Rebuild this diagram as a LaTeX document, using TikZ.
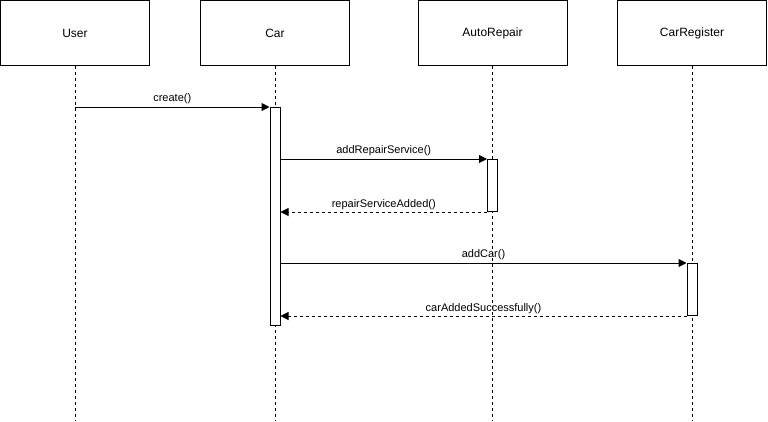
\documentclass[tikz,border=0pt]{standalone}
\usepackage{fontspec}
\setmainfont{Liberation Sans}
\usetikzlibrary{arrows.meta}
\begin{document}
\begin{tikzpicture}[x=1pt,y=-1pt,
  head/.style={draw,line width=1pt,minimum width=149pt,minimum height=65pt,inner sep=0pt,font=\fontsize{12}{14}\selectfont},
  life/.style={line width=1pt,dash pattern=on 3pt off 3pt},
  activ/.style={draw,fill=white,line width=1pt,minimum width=10pt,inner sep=0pt,anchor=north},
  call/.style={line width=1pt,-{Triangle[length=8pt,width=8pt]}},
  reply/.style={line width=1pt,dash pattern=on 3pt off 3pt,-{Triangle[length=8pt,width=8pt]}},
  msg/.style={font=\fontsize{11}{13}\selectfont,inner sep=0pt,anchor=south}]
\useasboundingbox (0,0) rectangle (768,421);
% lifeline heads
\node[head] (user) at (75,33) {User};
\node[head] (car) at (275,33) {Car};
\node[head] (repair) at (492.5,33) {AutoRepair};
\node[head] (reg) at (692,33) {CarRegister};
% lifeline ends
\coordinate (userEnd) at (75,421);
\coordinate (carEnd) at (275,421);
\coordinate (repairEnd) at (492.5,421);
\coordinate (regEnd) at (692,421);
\draw[life] (user.south) -- (userEnd);
\draw[life] (car.south) -- (carEnd);
\draw[life] (repair.south) -- (repairEnd);
\draw[life] (reg.south) -- (regEnd);
% activation bars
\node[activ,minimum height=218pt] (carAct) at (275,107) {};
\node[activ,minimum height=52pt] (repairAct) at (492.5,159) {};
\node[activ,minimum height=52pt] (regAct) at (692,263) {};
% messages
\coordinate (userCall) at (75,107);
\draw[call] (userCall) -- (carAct.north west)
  node[msg,pos=0.5,above=2.5pt] {create()};
\draw[call] (carAct.east |- repairAct.north) -- (repairAct.north west)
  node[msg,pos=0.5,above=2.5pt] {addRepairService()};
\draw[reply] (repairAct.south west) -- (carAct.east |- repairAct.south)
  node[msg,pos=0.5,above=2pt] {repairServiceAdded()};
\draw[call] (carAct.east |- regAct.north) -- (regAct.north west)
  node[msg,pos=0.5,above=2.5pt] {addCar()};
\draw[reply] (regAct.south west) -- (carAct.east |- regAct.south)
  node[msg,pos=0.5,above=2pt] {carAddedSuccessfully()};
\end{tikzpicture}
\end{document}
